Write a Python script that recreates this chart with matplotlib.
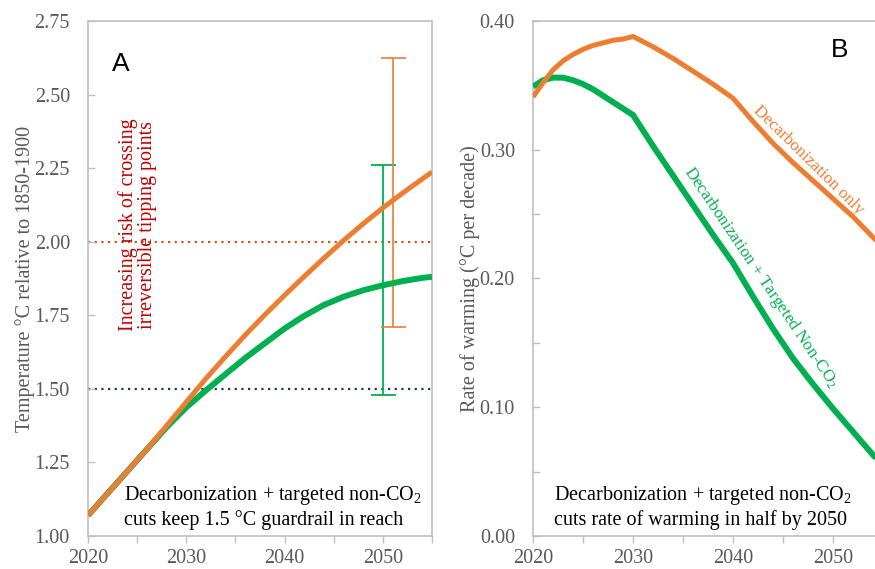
import matplotlib
matplotlib.use("Agg")
import matplotlib.pyplot as plt
from matplotlib.ticker import MultipleLocator, FormatStrFormatter

plt.rcParams['font.family'] = ['Liberation Serif', 'DejaVu Serif']
plt.rcParams['mathtext.fontset'] = 'custom'
plt.rcParams['mathtext.rm'] = 'Liberation Serif'
plt.rcParams['mathtext.it'] = 'Liberation Serif:italic'

# ---- Panel A data: temperature relative to 1850-1900 ----
years_a = [2020, 2022, 2024, 2026, 2028, 2030, 2032, 2034, 2036, 2038, 2040,
           2042, 2044, 2046, 2048, 2050, 2052, 2054, 2055]
temp_decarb = [1.07, 1.145, 1.22, 1.295, 1.375, 1.455, 1.535, 1.61, 1.683, 1.752, 1.818,
               1.882, 1.944, 2.004, 2.061, 2.115, 2.165, 2.213, 2.237]
temp_both = [1.07, 1.145, 1.22, 1.295, 1.37, 1.437, 1.495, 1.55, 1.605, 1.655, 1.705,
             1.748, 1.785, 1.813, 1.835, 1.852, 1.866, 1.877, 1.881]
err_year_both, err_lo_both, err_hi_both, err_mid_both = 2050, 1.48, 2.26, 1.86
err_year_decarb, err_lo_decarb, err_hi_decarb, err_mid_decarb = 2051, 1.71, 2.625, 2.12
threshold_high, threshold_low = 2.0, 1.5

# ---- Panel B data: rate of warming (°C per decade) ----
years_b = [2020, 2021, 2022, 2023, 2024, 2025, 2026, 2027, 2028, 2029, 2030,
           2032, 2034, 2036, 2038, 2040, 2042, 2044, 2046, 2048, 2050, 2052, 2054, 2055]
rate_decarb = [0.341, 0.352, 0.362, 0.369, 0.374, 0.378, 0.381, 0.383, 0.385, 0.386, 0.388,
               0.380, 0.371, 0.361, 0.351, 0.340, 0.322, 0.305, 0.290, 0.276, 0.262,
               0.248, 0.232, 0.224]
rate_both = [0.349, 0.354, 0.356, 0.356, 0.354, 0.351, 0.347, 0.342, 0.337, 0.332, 0.327,
             0.303, 0.280, 0.257, 0.234, 0.212, 0.186, 0.161, 0.138, 0.118, 0.099,
             0.081, 0.063, 0.055]

ORANGE = '#ed7d31'
GREEN = '#00b050'
GRAY = '#595959'
SPINE = '#bfbfbf'

fig = plt.figure(figsize=(8.75, 5.69), dpi=100)
axA = fig.add_axes([88/875, 1-536/569, (432-88)/875, (536-21)/569])
axB = fig.add_axes([533/875, 1-536/569, (875-533)/875, (536-21)/569])

def style(ax):
    for s in ax.spines.values():
        s.set_color(SPINE)
        s.set_linewidth(1.2)
    ax.tick_params(axis='both', colors=SPINE, labelcolor=GRAY, labelsize=14.5,
                   length=5, width=1)
    ax.tick_params(axis='x', which='both', direction='out', pad=4.5)
    ax.tick_params(axis='y', which='both', direction='in', pad=13)
    ax.tick_params(which='minor', length=5, width=1, colors=SPINE)
    ax.xaxis.set_major_locator(MultipleLocator(10))
    ax.xaxis.set_minor_locator(MultipleLocator(5))

# Panel A
style(axA)
axA.set_xlim(2020, 2055)
axA.set_ylim(1.0, 2.75)
axA.yaxis.set_major_locator(MultipleLocator(0.25))
axA.yaxis.set_major_formatter(FormatStrFormatter('%.2f'))
axA.axhline(threshold_high, color='#c55a11', lw=1.6, ls=(0, (1, 2)), zorder=1)
axA.axhline(threshold_low, color='#203864', lw=1.6, ls=(0, (1, 2)), zorder=1)
axA.errorbar([err_year_both], [err_mid_both],
             yerr=[[err_mid_both-err_lo_both], [err_hi_both-err_mid_both]],
             fmt='none', ecolor=GREEN, elinewidth=1.3, capsize=9, capthick=1.3, zorder=2)
axA.errorbar([err_year_decarb], [err_mid_decarb],
             yerr=[[err_mid_decarb-err_lo_decarb], [err_hi_decarb-err_mid_decarb]],
             fmt='none', ecolor=ORANGE, elinewidth=1.2, capsize=9, capthick=1.2, zorder=2)
axA.plot(years_a, temp_both, color=GREEN, lw=4.3, solid_capstyle='butt', zorder=3)
axA.plot(years_a, temp_decarb, color=ORANGE, lw=3.6, solid_capstyle='butt', zorder=4)
axA.set_ylabel('Temperature °C relative to 1850-1900', color=GRAY, fontsize=14.5, labelpad=0)
axA.text(0.07, 0.94, 'A', transform=axA.transAxes, fontsize=19, family='Liberation Sans',
         ha='left', va='top', color='black')
axA.text(138/875, 1-225/569, 'Increasing risk of crossing\nirreversible tipping points',
         transform=fig.transFigure, rotation=90, color='#c00000', fontsize=14.5,
         ha='center', va='center', linespacing=1.0)
axA.text(124/875, 1-507/569,
         'Decarbonization + targeted non-CO$_2$\ncuts keep 1.5 °C guardrail in reach',
         transform=fig.transFigure, fontsize=14.5, ha='left', va='center',
         color='black', linespacing=1.15)

# Panel B
style(axB)
axB.spines['right'].set_visible(False)
axB.set_xlim(2020, 2054.2)
axB.set_ylim(0.0, 0.40)
axB.yaxis.set_major_locator(MultipleLocator(0.10))
axB.yaxis.set_minor_locator(MultipleLocator(0.05))
axB.yaxis.set_major_formatter(FormatStrFormatter('%.2f'))
axB.plot(years_b, rate_both, color=GREEN, lw=4.3, solid_capstyle='butt', zorder=3)
axB.plot(years_b, rate_decarb, color=ORANGE, lw=3.6, solid_capstyle='butt', zorder=4)
axB.set_ylabel('Rate of warming (°C per decade)', color=GRAY, fontsize=14.5, labelpad=0)
axB.text(840/875, 1-50/569, 'B', transform=fig.transFigure, fontsize=19,
         family='Liberation Sans', ha='center', va='center', color='black')
axB.text(808/875, 1-160/569, 'Decarbonization only', transform=fig.transFigure,
         rotation=-44.5, rotation_mode='anchor', color=ORANGE, fontsize=12.3,
         ha='center', va='center')
axB.text(761/875, 1-277/569, 'Decarbonization + Targeted Non-CO$_2$', transform=fig.transFigure,
         rotation=-56, rotation_mode='anchor', color=GREEN, fontsize=12.3,
         ha='center', va='center')
axB.text(554/875, 1-507/569,
         'Decarbonization + targeted non-CO$_2$\ncuts rate of warming in half by 2050',
         transform=fig.transFigure, fontsize=14.5, ha='left', va='center',
         color='black', linespacing=1.15)

fig.savefig('out.png', dpi=100)
